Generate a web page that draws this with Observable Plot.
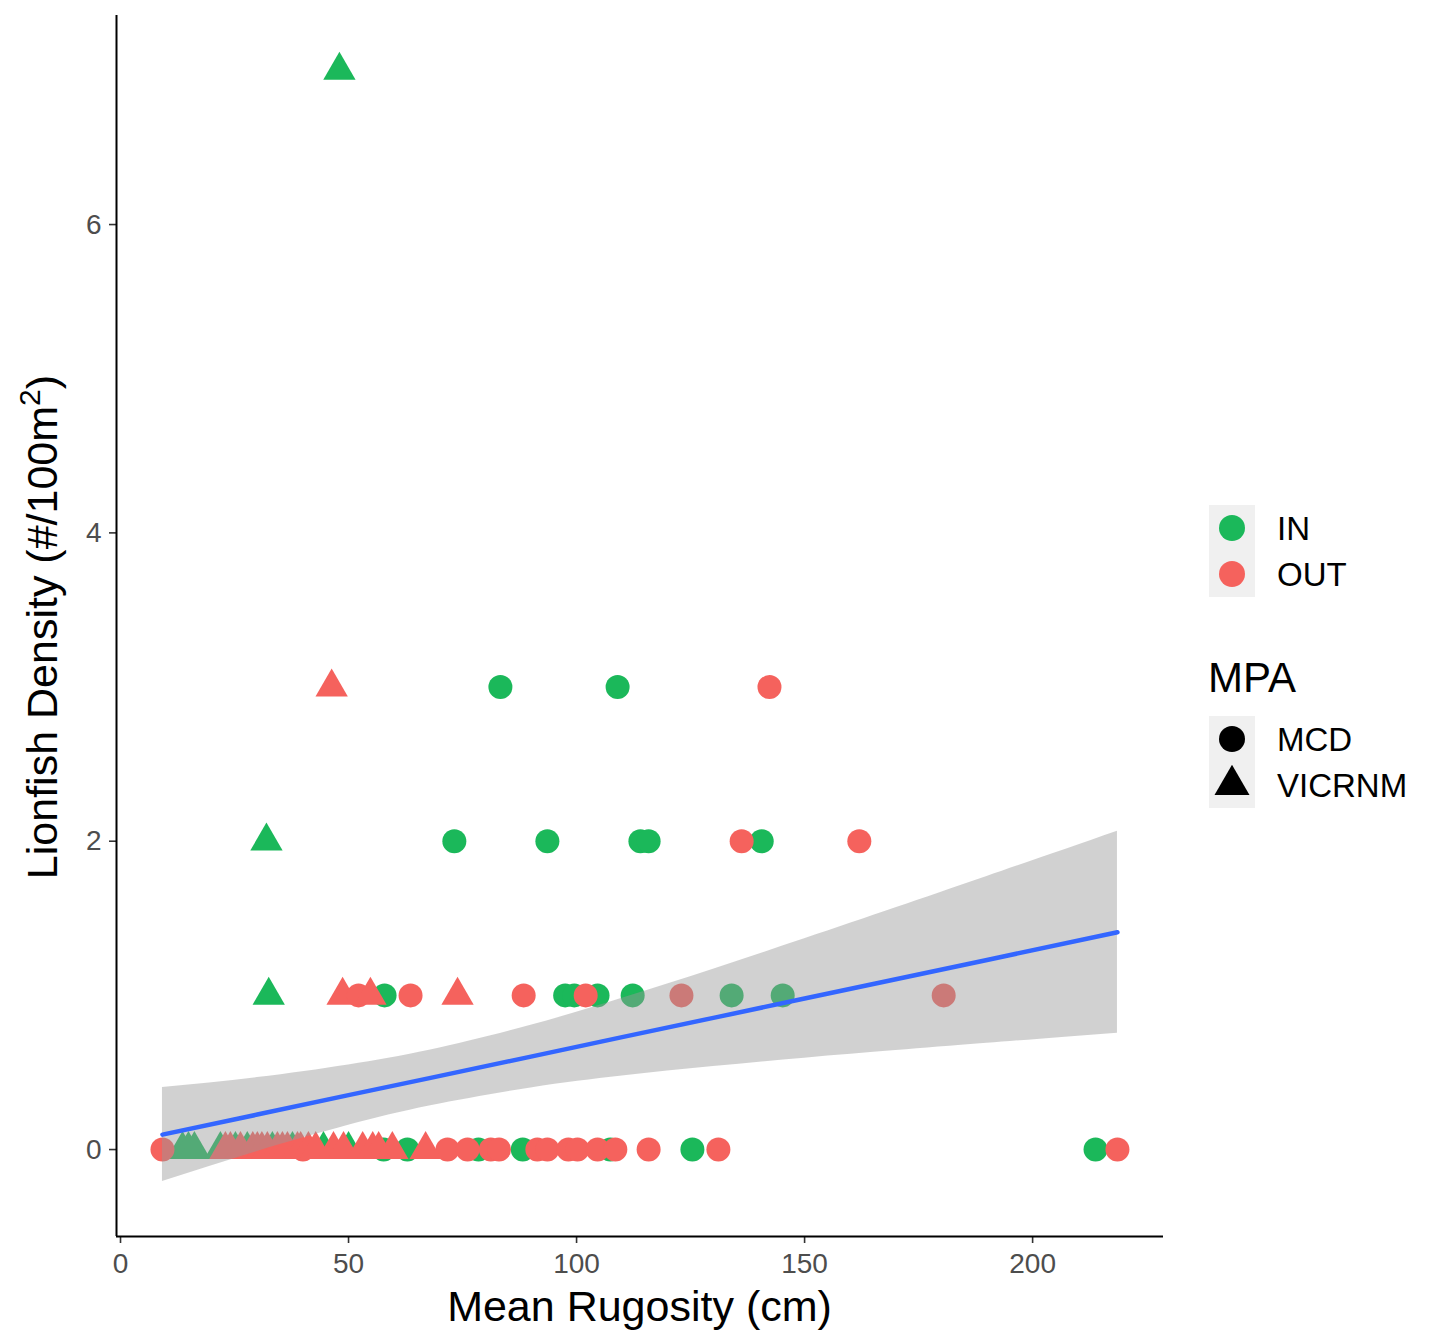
<!DOCTYPE html>
<html><head><meta charset="utf-8">
<script src="https://cdn.jsdelivr.net/npm/d3@7"></script>
<script src="https://cdn.jsdelivr.net/npm/@observablehq/plot@0.6"></script>
<style>
body{margin:0;background:#fff;font-family:"Liberation Sans",Arial,Helvetica,sans-serif}
#chart{position:relative;width:1440px;height:1344px}
</style>
</head><body><div id="chart"></div>
<script>
// ---- data ----
const rugosity = [
  // IN
  48.0, 83.3, 109.0, 32.0, 73.2, 93.6, 114.0, 115.8, 140.6,
  32.5, 57.9, 97.5, 99.5, 104.6, 112.3, 134.0, 145.2,
  13.6, 14.9, 16.2, 21.9, 25.2, 27.8, 33.3, 37.7, 44.5, 50.0,
  57.7, 62.9, 78.5, 88.2, 107.4, 125.4, 213.8,
  // OUT
  46.3, 142.3, 136.2, 162.0,
  48.7, 52.2, 54.8, 63.6, 73.9, 88.4, 102.0, 123.0, 180.5,
  9.2, 40.0, 71.7, 76.1, 81.2, 83.0, 91.4, 93.6, 98.2, 100.2, 104.6, 108.5, 115.8, 131.1, 218.6,
  23.0, 24.1, 26.3, 29.0, 30.0, 31.0, 32.2, 34.4, 35.5, 36.6, 38.8, 39.5, 41.2, 42.8, 46.7, 48.9, 53.1, 55.3, 56.6, 59.6, 66.9
];
const density = [
  7, 3, 3, 2, 2, 2, 2, 2, 2,
  1, 1, 1, 1, 1, 1, 1, 1,
  0, 0, 0, 0, 0, 0, 0, 0, 0, 0,
  0, 0, 0, 0, 0, 0, 0,
  3, 3, 2, 2,
  1, 1, 1, 1, 1, 1, 1, 1, 1,
  0, 0, 0, 0, 0, 0, 0, 0, 0, 0, 0, 0, 0, 0, 0,
  0, 0, 0, 0, 0, 0, 0, 0, 0, 0, 0, 0, 0, 0, 0, 0, 0, 0, 0, 0, 0
];
const mpa = [
  "VICRNM", "MCD", "MCD", "VICRNM", "MCD", "MCD", "MCD", "MCD", "MCD",
  "VICRNM", "MCD", "MCD", "MCD", "MCD", "MCD", "MCD", "MCD",
  "VICRNM", "VICRNM", "VICRNM", "VICRNM", "VICRNM", "VICRNM", "VICRNM", "VICRNM", "VICRNM", "VICRNM",
  "MCD", "MCD", "MCD", "MCD", "MCD", "MCD", "MCD",
  "VICRNM", "MCD", "MCD", "MCD",
  "VICRNM", "MCD", "VICRNM", "MCD", "VICRNM", "MCD", "MCD", "MCD", "MCD",
  "MCD", "MCD", "MCD", "MCD", "MCD", "MCD", "MCD", "MCD", "MCD", "MCD", "MCD", "MCD", "MCD", "MCD", "MCD",
  "VICRNM", "VICRNM", "VICRNM", "VICRNM", "VICRNM", "VICRNM", "VICRNM", "VICRNM", "VICRNM", "VICRNM", "VICRNM",
  "VICRNM", "VICRNM", "VICRNM", "VICRNM", "VICRNM", "VICRNM", "VICRNM", "VICRNM", "VICRNM", "VICRNM"
];
const nIn = 34;
const zone = rugosity.map((_, i) => i < nIn ? "IN" : "OUT");

// fitted linear trend and its 95% band
const fitX  = [9.2, 30, 50, 68, 90, 110, 130, 150, 170, 190, 218.6];
const fitY  = [0.097, 0.227, 0.353, 0.465, 0.603, 0.729, 0.854, 0.980, 1.105, 1.230, 1.410];
const fitLo = [-0.208, -0.013, 0.157, 0.284, 0.400, 0.477, 0.538, 0.593, 0.642, 0.689, 0.755];
const fitHi = [0.402, 0.467, 0.549, 0.646, 0.806, 0.981, 1.170, 1.367, 1.568, 1.771, 2.065];

const zoneLevels = ["IN", "OUT"];
const zoneColors = ["#1BB85A", "#F5625D"];
const mpaLevels = ["MCD", "VICRNM"];
const mpaSymbols = ["circle", "triangle"];
const xTicks = [0, 50, 100, 150, 200];
const yTicks = [0, 2, 4, 6];

const data = rugosity.map((x, i) => ({x, y: density[i], mpa: mpa[i], zone: zone[i]}));
const fit = fitX.map((x, i) => ({x, y: fitY[i], lo: fitLo[i], hi: fitHi[i]}));

const xDomain = [-0.88, 228.7];
const yDomain = [-0.564, 7.356];

const plot = Plot.plot({
  width: 1440, height: 1344,
  marginLeft: 116, marginRight: 277, marginTop: 15, marginBottom: 108,
  style: {fontFamily: '"Liberation Sans", Arial, Helvetica, sans-serif', background: "#fff"},
  x: {domain: xDomain},
  y: {domain: yDomain},
  color: {domain: zoneLevels, range: zoneColors},
  symbol: {domain: mpaLevels, range: mpaSymbols},
  marks: [
    Plot.dot(data, {x: "x", y: "y", fill: "zone", symbol: "mpa", r: 12, stroke: null}),
    Plot.areaY(fit, {x: "x", y1: "lo", y2: "hi", fill: "#999999", fillOpacity: 0.45, curve: "natural"}),
    Plot.line(fit, {x: "x", y: "y", stroke: "#3366FF", strokeWidth: 4.5}),
    Plot.axisX(xTicks, {tickSize: 7, stroke: "#333", strokeWidth: 1.6, tickFormat: () => "", label: null}),
    Plot.axisX(xTicks, {tickSize: 0, tickPadding: 17, fontSize: 28, fill: "#4D4D4D", label: null}),
    Plot.axisY(yTicks, {tickSize: 7, stroke: "#333", strokeWidth: 1.6, tickFormat: () => "", label: null}),
    Plot.axisY(yTicks, {tickSize: 0, tickPadding: 15, fontSize: 28, fill: "#4D4D4D", label: null, tickFormat: d3.format("d")}),
    Plot.ruleY([yDomain[0]], {stroke: "#000", strokeWidth: 2}),
    Plot.ruleX([xDomain[0]], {stroke: "#000", strokeWidth: 2})
  ]
});
document.getElementById("chart").appendChild(plot);

// axis titles & legend
const svg = d3.select(plot);
const font = '"Liberation Sans", Arial, Helvetica, sans-serif';
svg.append("text").attr("x", 639.5).attr("y", 1321).attr("text-anchor", "middle")
  .attr("font-size", 43).attr("font-family", font).attr("fill", "#000").text("Mean Rugosity (cm)");
const yl = svg.append("text").attr("transform", "translate(57,627) rotate(-90)").attr("text-anchor", "middle")
  .attr("font-size", 43).attr("font-family", font).attr("fill", "#000");
yl.append("tspan").text("Lionfish Density (#/100m");
yl.append("tspan").attr("dy", -17).attr("font-size", 30).text("2");
yl.append("tspan").attr("dy", 17).text(")");

const lg = svg.append("g").attr("text-anchor", "start");
const keyX = 1209, keyW = 46;
zoneLevels.forEach((z, i) => {
  const y0 = 505 + i * 46;
  lg.append("rect").attr("x", keyX).attr("y", y0).attr("width", keyW).attr("height", 46).attr("fill", "#F0F0F0");
  lg.append("circle").attr("cx", keyX + 23).attr("cy", y0 + 23).attr("r", 13).attr("fill", zoneColors[i]);
  lg.append("text").attr("x", 1277).attr("y", y0 + 35).attr("text-anchor", "start").attr("font-size", 33).attr("font-family", font).attr("fill", "#000").text(z);
});
lg.append("text").attr("x", 1208).attr("y", 692).attr("text-anchor", "start").attr("font-size", 42).attr("font-family", font).attr("fill", "#000").text("MPA");
mpaLevels.forEach((m, i) => {
  const y0 = 716 + i * 46;
  lg.append("rect").attr("x", keyX).attr("y", y0).attr("width", keyW).attr("height", 46).attr("fill", "#F0F0F0");
  const sym = mpaSymbols[i] === "circle" ? d3.symbolCircle : d3.symbolTriangle;
  lg.append("path").attr("transform", `translate(${keyX + 23},${y0 + 23})`)
    .attr("d", d3.symbol(sym, Math.PI * 13 * 13)()).attr("fill", "#000");
  lg.append("text").attr("x", 1277).attr("y", y0 + 35).attr("text-anchor", "start").attr("font-size", 33).attr("font-family", font).attr("fill", "#000").text(m);
});
</script>
</body></html>
